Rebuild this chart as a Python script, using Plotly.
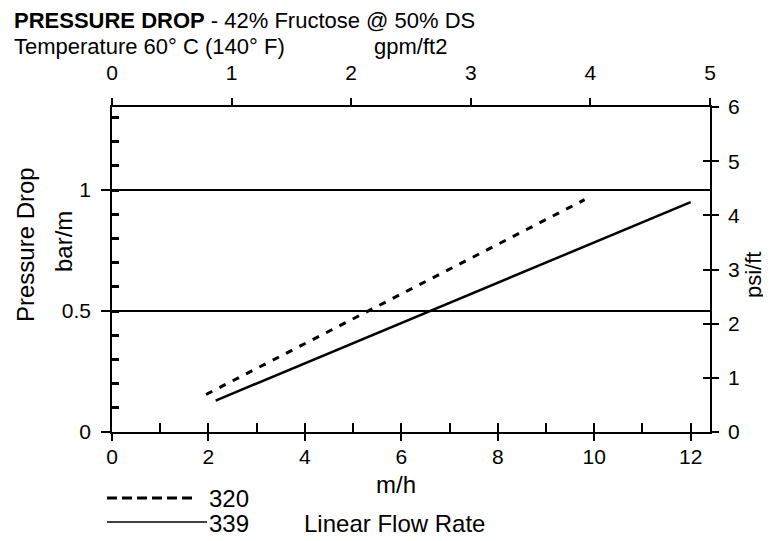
import plotly.graph_objects as go

# ---- data ----
flow_320 = [1.95, 5.3, 9.8]          # m/h
drop_320 = [0.155, 0.50, 0.96]       # bar/m
flow_339 = [2.15, 6.6, 12.0]         # m/h
drop_339 = [0.13, 0.50, 0.95]        # bar/m

x_ticks = [0, 2, 4, 6, 8, 10, 12]
x_minor = list(range(0, 13))
gpm_ticks = [0, 1, 2, 3, 4, 5]
bar_ticks = [0, 0.5, 1]
bar_ticklabels = ["0", "0.5", "1"]
bar_minor = [round(0.1 * i, 1) for i in range(14)]
psi_ticks = [0, 1, 2, 3, 4, 5, 6]

# ---- layout geometry (reference pixel coords; page has an 8px body margin) ----
OFF = 8
W, H = 771 - OFF, 541 - OFF
L, R, T, B = 112, 710, 107, 432
FONT = "Liberation Sans, Arial, Helvetica, sans-serif"


def px(x):
    return (x - L) / (R - L)


def py(y):
    return (B - y) / (B - T)


fig = go.Figure()
fig.add_trace(go.Scatter(x=flow_320, y=drop_320, mode="lines", name="320",
                         line=dict(color="black", width=3, dash="7px,8px"),
                         showlegend=False))
fig.add_trace(go.Scatter(x=flow_339, y=drop_339, mode="lines", name="339",
                         line=dict(color="black", width=2.5),
                         showlegend=False))
# empty traces to register the extra axes
fig.add_trace(go.Scatter(x=[], y=[], xaxis="x2", yaxis="y2", showlegend=False))
fig.add_trace(go.Scatter(x=[], y=[], xaxis="x3", yaxis="y3", showlegend=False))
fig.add_trace(go.Scatter(x=[], y=[], xaxis="x", yaxis="y4", showlegend=False))

tickfont = dict(family=FONT, size=21, color="black")
ax_common = dict(showgrid=False, zeroline=False, tickcolor="black",
                 linecolor="black", fixedrange=True)
XR = [0, 12.4]
YR = [0, 1.343]

fig.update_layout(
    width=W, height=H,
    margin=dict(l=L - OFF, r=W - (R - OFF), t=T - OFF, b=H - (B - OFF), pad=0),
    paper_bgcolor="white", plot_bgcolor="white",
    font=dict(family=FONT, color="black"),
    xaxis=dict(range=XR, tickvals=x_ticks, ticks="outside", ticklen=7,
               tickwidth=1.5, showline=True, linewidth=1.5, tickfont=tickfont,
               ticklabelstandoff=-2, anchor="y", **ax_common),
    xaxis3=dict(range=XR, tickvals=x_minor, ticks="inside", ticklen=9,
                tickwidth=1.5, showline=False, showticklabels=False,
                overlaying="x", anchor="y", side="bottom", **ax_common),
    xaxis2=dict(range=[0, 5], tickvals=gpm_ticks, ticks="outside", ticklen=7,
                tickwidth=1.5, showline=True, linewidth=1.5, tickfont=tickfont,
                ticklabelstandoff=10,
                overlaying="x", anchor="y", side="top", **ax_common),
    yaxis=dict(range=YR, tickvals=bar_ticks, ticktext=bar_ticklabels,
               ticks="outside", ticklen=9, tickwidth=1.5, showline=True,
               linewidth=1.5, tickfont=tickfont, anchor="x",
               ticklabelstandoff=6,
               showgrid=True, gridcolor="black", gridwidth=1.5,
               zeroline=False, tickcolor="black", linecolor="black",
               fixedrange=True),
    yaxis3=dict(range=YR, tickvals=bar_minor, ticks="inside",
                ticklen=7, tickwidth=3, showline=False, showticklabels=False,
                overlaying="y", anchor="x", side="left", **ax_common),
    yaxis2=dict(range=[0, 6], tickvals=psi_ticks, ticks="outside", ticklen=7,
                tickwidth=1.5, showline=True, linewidth=1.5, tickfont=tickfont,
                ticklabelstandoff=5,
                overlaying="y", anchor="x", side="right", **ax_common),
    yaxis4=dict(range=[0, 6], tickvals=psi_ticks, ticks="inside", ticklen=7,
                tickwidth=1.5, showline=False, showticklabels=False,
                overlaying="y", anchor="x", side="right", **ax_common),
)

ann = []


def text(s, x, y, size=24, xanchor="center", angle=0):
    ann.append(dict(text=s, x=px(x), y=py(y), xref="paper", yref="paper",
                    xanchor=xanchor, yanchor="middle", showarrow=False,
                    textangle=angle,
                    font=dict(family=FONT, size=size, color="black")))


text("<b>PRESSURE DROP</b> - 42% Fructose @ 50% DS", 12, 21, size=22, xanchor="left")
text("Temperature 60° C (140° F)", 12, 46, size=22, xanchor="left")
text("gpm/ft2", 410, 46, size=22)
text("Pressure Drop", 25, 245, angle=-90)
text("bar/m", 63, 242, angle=-90)
text("psi/ft", 753, 275, size=22, angle=-90)
text("m/h", 396, 484)
text("Linear Flow Rate", 302, 523, xanchor="left")
text("320", 207, 498, xanchor="left")
text("339", 207, 523, xanchor="left")
fig.update_layout(annotations=ann)

# legend samples
fig.add_shape(type="line", xref="paper", yref="paper",
              x0=px(107), x1=px(197), y0=py(498), y1=py(498),
              line=dict(color="black", width=3, dash="10px,5px"))
fig.add_shape(type="line", xref="paper", yref="paper",
              x0=px(107), x1=px(207), y0=py(522), y1=py(522),
              line=dict(color="black", width=1.5))

fig.write_html("out.html")
